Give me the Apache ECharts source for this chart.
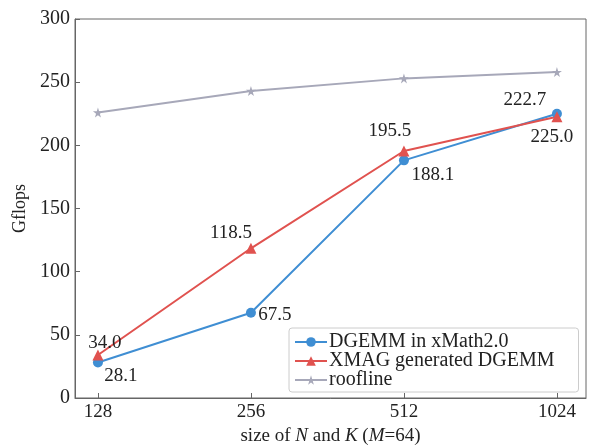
<!DOCTYPE html>
<html>
<head>
<meta charset="utf-8">
<script src="https://cdn.jsdelivr.net/npm/echarts@6/dist/echarts.min.js"></script>
<style>html,body{margin:0;padding:0;background:#fff}#c{width:590px;height:445px}</style>
</head>
<body>
<div id="c"></div>
<script>
var categories = ['128', '256', '512', '1024'];
var dgemmValues = [28.1, 67.5, 188.1, 225.0];
var xmagValues = [34.0, 118.5, 195.5, 222.7];
var rooflineValues = [226, 243, 253, 258];
var yTicks = [0, 50, 100, 150, 200, 250, 300];

var dgemmLabelOffsets = [[23, 14], [24, 2], [29, 15], [-5, 23]];
var xmagLabelOffsets = [[7, -12], [-20, -15], [-14, -20], [-32, -17]];

var font = 'Liberation Serif';
var starPath = 'path://M50,0 L61,35 L98,35 L68,57 L79,91 L50,70 L21,91 L32,57 L2,35 L39,35 Z';

function pts(vals, offsets) {
  return vals.map(function (v, i) {
    var d = { value: [i, v] };
    if (offsets) {
      d.label = {
        show: true, position: 'inside', offset: offsets[i],
        formatter: v.toFixed(1), color: '#222', fontFamily: font, fontSize: 19
      };
    }
    return d;
  });
}

var chart = echarts.init(document.getElementById('c'));
chart.setOption({
  animation: false,
  grid: { left: 75, right: 4, top: 19, bottom: 47, outerBoundsMode: 'none', containLabel: false,
    show: true, borderColor: '#666', borderWidth: 1, backgroundColor: 'transparent' },
  xAxis: {
    type: 'value', min: -0.15, max: 3.19,
    name: 'size of {i|N} and {i|K} ({i|M}=64)',
    nameLocation: 'middle', nameGap: 23,
    nameTextStyle: { fontFamily: font, fontSize: 19, color: '#222',
      rich: { i: { fontStyle: 'italic', fontFamily: font, fontSize: 19, color: '#222' } } },
    axisLine: { show: true, onZero: false, lineStyle: { color: '#666' } },
    splitLine: { show: false },
    axisTick: { show: true, inside: true, length: 5, customValues: [0, 1, 2, 3], lineStyle: { color: '#666' } },
    axisLabel: { customValues: [0, 1, 2, 3], formatter: function (v) { return categories[Math.round(v)]; },
      fontFamily: font, fontSize: 19, color: '#222', margin: 5 }
  },
  yAxis: {
    type: 'value', min: yTicks[0], max: yTicks[yTicks.length - 1], interval: 50,
    name: 'Gflops', nameLocation: 'middle', nameGap: 44, nameRotate: 90,
    nameTextStyle: { fontFamily: font, fontSize: 18, color: '#222' },
    axisLine: { show: true, onZero: false, lineStyle: { color: '#666' } },
    splitLine: { show: false },
    axisTick: { show: true, inside: true, length: 5, lineStyle: { color: '#666' } },
    axisLabel: { fontFamily: font, fontSize: 20, color: '#222', margin: 5 }
  },
  legend: {
    orient: 'vertical', left: 289, top: 328,
    padding: [4, 24, 2, 5],
    itemGap: -1, itemWidth: 32, itemHeight: 12,
    borderColor: '#ccc', borderWidth: 1, borderRadius: 3,
    textStyle: { fontFamily: font, fontSize: 20, lineHeight: 18, color: '#222', padding: [0, 0, 0, -3] },
    data: ['DGEMM in xMath2.0', 'XMAG generated DGEMM', 'roofline']
  },
  series: [
    { name: 'DGEMM in xMath2.0', type: 'line', data: pts(dgemmValues, dgemmLabelOffsets),
      symbol: 'circle', symbolSize: 10, color: '#3f8ed3', lineStyle: { width: 2 } },
    { name: 'XMAG generated DGEMM', type: 'line', data: pts(xmagValues, xmagLabelOffsets),
      symbol: 'triangle', symbolSize: 11, color: '#e0524f', lineStyle: { width: 2 } },
    { name: 'roofline', type: 'line', data: pts(rooflineValues, null),
      symbol: starPath, symbolSize: 10, color: '#a7a8b9', lineStyle: { width: 2 } }
  ]
});
</script>
</body>
</html>
